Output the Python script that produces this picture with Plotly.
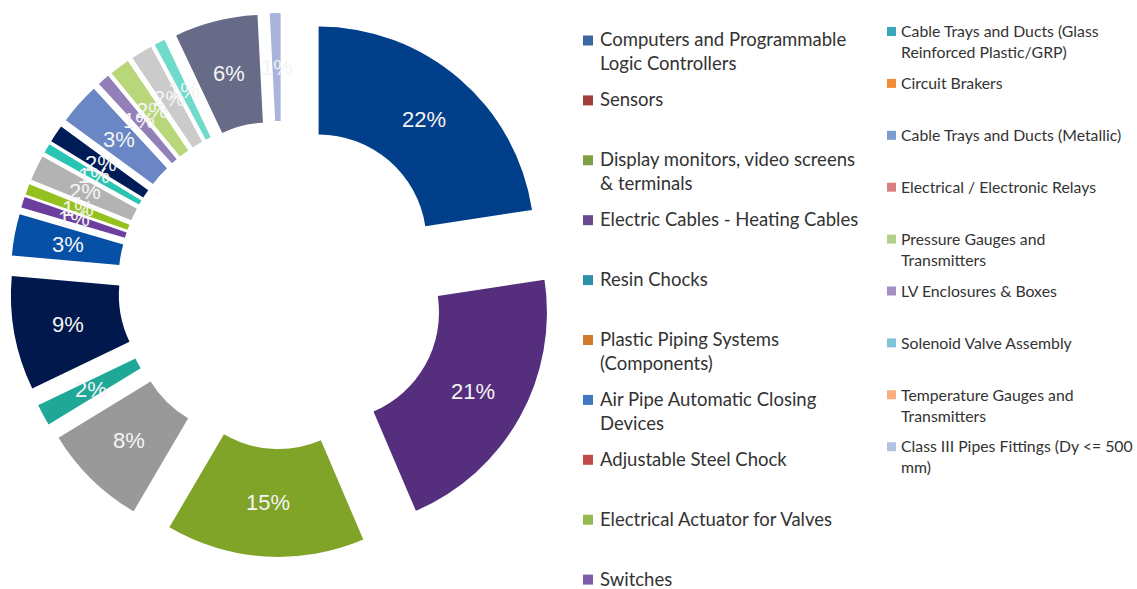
import math
import plotly.graph_objects as go

categories = [
    "Computers and Programmable Logic Controllers",
    "Sensors",
    "Display monitors, video screens & terminals",
    "Electric Cables - Heating Cables",
    "Resin Chocks",
    "Plastic Piping Systems (Components)",
    "Air Pipe Automatic Closing Devices",
    "Adjustable Steel Chock",
    "Electrical Actuator for Valves",
    "Switches",
    "Cable Trays and Ducts (Glass Reinforced Plastic/GRP)",
    "Circuit Brakers",
    "Cable Trays and Ducts (Metallic)",
    "Electrical / Electronic Relays",
    "Pressure Gauges and Transmitters",
    "LV Enclosures & Boxes",
    "Solenoid Valve Assembly",
    "Temperature Gauges and Transmitters",
    "Class III Pipes Fittings (Dy <= 500 mm)",
]

# share of each category (percent)
values = [22.5, 20.9, 14.8, 7.8, 1.6, 8.5, 3.1, 0.8, 0.8, 1.9,
          0.7, 1.3, 3.1, 0.9, 1.5, 1.6, 0.8, 6.2, 0.8]

# labels printed on the slices
slice_text = ["22%", "21%", "15%", "8%", "2%", "9%", "3%", "1%", "1%", "2%",
              "1%", "2%", "3%", "1%", "2%", "2%", "1%", "6%", "1%"]

# legend texts, wrapped as in the original
legend_labels = [
    "Computers and Programmable<br>Logic Controllers",
    "Sensors",
    "Display monitors, video screens<br>& terminals",
    "Electric Cables - Heating Cables",
    "Resin Chocks",
    "Plastic Piping Systems<br>(Components)",
    "Air Pipe Automatic Closing<br>Devices",
    "Adjustable Steel Chock",
    "Electrical Actuator for Valves",
    "Switches",
    "Cable Trays and Ducts (Glass<br>Reinforced Plastic/GRP)",
    "Circuit Brakers",
    "Cable Trays and Ducts (Metallic)",
    "Electrical / Electronic Relays",
    "Pressure Gauges and<br>Transmitters",
    "LV Enclosures & Boxes",
    "Solenoid Valve Assembly",
    "Temperature Gauges and<br>Transmitters",
    "Class III Pipes Fittings (Dy <= 500<br>mm)",
]

slice_colors = ["#023F8A", "#552E7E", "#7FA428", "#999999", "#1FA897",
                "#00184B", "#0650A8", "#6C3F9F", "#95C11F", "#B3B3B3",
                "#29C5B2", "#001C57", "#6A86C4", "#9480B9", "#B8D77A",
                "#CBCBCB", "#70DACB", "#676B88", "#AAB4DA"]

legend_colors = ["#3D67A4", "#A33D3A", "#7F9F45", "#664A8A", "#2F8FA8",
                 "#D07A30", "#4177C0", "#C04B48", "#93BB51", "#7E5DA8",
                 "#3AA6BE", "#EF8C35", "#7A9CD3", "#D98080", "#B2D08A",
                 "#A58EC4", "#7EC4D8", "#F8AE7E", "#B1C3E0"]

W, H = 1137, 589
DOM_X = [0.0088, 0.4873]
DOM_Y = [0.0543, 0.9779]
HOLE = 0.5
PULL = 0.26

fig = go.Figure()

fig.add_trace(go.Pie(
    labels=categories,
    values=values,
    textinfo="none",
    marker=dict(colors=slice_colors, line=dict(width=0)),
    hole=HOLE,
    pull=PULL,
    sort=False,
    direction="clockwise",
    rotation=0,
    showlegend=False,
    domain=dict(x=DOM_X, y=DOM_Y),
    hoverinfo="label+percent",
))

# slice labels: middle of each pulled ring sector, as in the original
box = min((DOM_X[1] - DOM_X[0]) * W, (DOM_Y[1] - DOM_Y[0]) * H)
R = box / (2 + 2 * PULL)
cx = (DOM_X[0] + DOM_X[1]) / 2 * W
cy = (1 - (DOM_Y[0] + DOM_Y[1]) / 2) * H
rad = PULL * R + R * (1 + HOLE) / 2
total = sum(values)
cum = 0.0
for v, t in zip(values, slice_text):
    ang = 2 * math.pi * (cum + v / 2) / total
    cum += v
    px = cx + rad * math.sin(ang)
    py = cy - rad * math.cos(ang)
    fig.add_annotation(
        x=px / W, y=1 - py / H, xref="paper", yref="paper",
        text=t, showarrow=False, xanchor="center", yanchor="middle",
        font=dict(family="Liberation Sans, Arial, sans-serif", size=22, color="#F4F4F4"),
    )

# two-column legend (Excel style, fixed row slots)
COLS = [
    dict(mark_x=588, sq=10, text_x=598, y0=40.5, step=59.9, size=18.5),
    dict(mark_x=891.5, sq=9, text_x=899, y0=31.5, step=51.9, size=15.8),
]
for i, (lab, col) in enumerate(zip(legend_labels, legend_colors)):
    c = COLS[0] if i < 10 else COLS[1]
    k = i if i < 10 else i - 10
    yc = c["y0"] + c["step"] * k
    h = c["sq"] / 2
    fig.add_shape(
        type="rect", xref="paper", yref="paper",
        x0=(c["mark_x"] - h) / W, x1=(c["mark_x"] + h) / W,
        y0=1 - (yc + h) / H, y1=1 - (yc - h) / H,
        fillcolor=col, line=dict(width=0),
    )
    fig.add_annotation(
        x=c["text_x"] / W, y=1 - (yc - 0.65 * c["size"] - 2) / H,
        xref="paper", yref="paper", xanchor="left", yanchor="top",
        text=lab, showarrow=False, align="left",
        font=dict(family="Lato, Carlito, Calibri, sans-serif", size=c["size"], color="#333333"),
    )

fig.update_layout(
    width=W, height=H,
    margin=dict(l=0, r=0, t=0, b=0),
    paper_bgcolor="white", plot_bgcolor="white",
    showlegend=False,
)

fig.write_html("out.html")
